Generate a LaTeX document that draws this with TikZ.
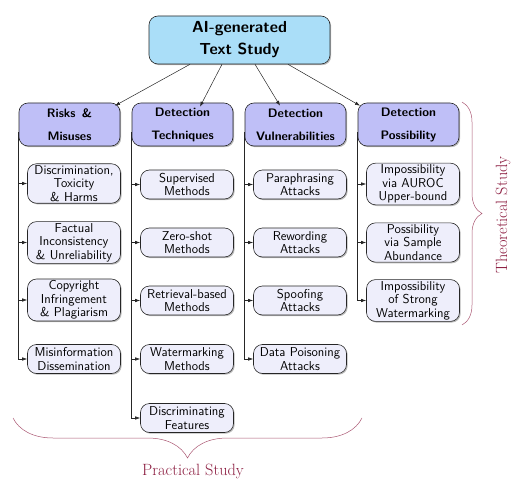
\documentclass[tikz,border=0pt]{standalone}
\usetikzlibrary{shadows,decorations.pathreplacing,arrows.meta}
\definecolor{rootfill}{RGB}{170,222,248}
\definecolor{catfill}{RGB}{191,191,247}
\definecolor{leaffill}{RGB}{238,238,251}
\definecolor{bracecol}{RGB}{140,30,65}
\tikzset{
  boxbase/.style={draw=black!85, line width=0.6pt, rounded corners=9pt, align=center,
    drop shadow={shadow xshift=1.2pt, shadow yshift=-1.2pt, opacity=0.45, fill=black!60}},
  rootbox/.style={boxbase, fill=rootfill, minimum width=181pt, minimum height=48pt,
    text width=170pt, font=\sffamily\bfseries\fontsize{16}{22}\selectfont},
  catbox/.style={boxbase, fill=catfill, minimum width=101pt, minimum height=43pt,
    text width=96pt, inner sep=2pt, font=\sffamily\bfseries\fontsize{12.3}{23}\selectfont},
  leafbox/.style={boxbase, fill=leaffill, minimum width=92pt, minimum height=29pt,
    text width=90pt, inner sep=1.5pt, font=\sffamily\fontsize{12.9}{13.6}\selectfont},
  arr/.style={-{Latex[length=5pt,width=3.5pt]}, line width=0.5pt, black!85},
  tree/.style={-{Latex[length=5pt,width=3.5pt]}, line width=0.6pt, black!85},
  bracestyle/.style={decorate, draw=bracecol!75, line width=0.5pt},
  studylabel/.style={text=bracecol, font=\fontsize{16.3}{18}\selectfont}
}
\begin{document}
\begin{tikzpicture}[x=1pt,y=-1pt]
\useasboundingbox (0,0) rectangle (519,481);
% root
\node[rootbox] (root) at (239.5,40) {AI-generated\\Text Study};
% categories
\node[catbox] (c1) at (69.5,124.5) {Risks \,\&\\Misuses};
\node[catbox] (c2) at (182.5,124.5) {Detection\\Techniques};
\node[catbox] (c3) at (295.5,124.5) {Detection\\Vulnerabilities};
\node[catbox] (c4) at (408.5,124.5) {Detection\\Possibility};
% root arrows
\draw[arr] ([xshift=-49.5pt]root.south) -- ([xshift=45.5pt,yshift=-3pt]c1.north);
\draw[arr] ([xshift=-17.5pt]root.south) -- ([xshift=17.5pt,yshift=-4pt]c2.north);
\draw[arr] ([xshift=15.5pt]root.south) -- ([xshift=-15.5pt,yshift=-3pt]c3.north);
\draw[arr] ([xshift=48.5pt]root.south) -- ([xshift=-48.5pt,yshift=-3pt]c4.north);
% column 1
\node[leafbox] (a1) at (74,183.5) {Discrimination,\\Toxicity\\\& Harms};
\node[leafbox] (a2) at (74,242.5) {Factual\\Inconsistency\\\& Unreliability};
\node[leafbox] (a3) at (74,300) {Copyright\\Infringement\\\& Plagiarism};
\node[leafbox] (a4) at (74,359) {Misinformation\\Dissemination};
% column 2
\node[leafbox] (b1) at (187,184.5) {Supervised\\Methods};
\node[leafbox] (b2) at (187,242.5) {Zero-shot\\Methods};
\node[leafbox] (b3) at (187,300.5) {Retrieval-based\\Methods};
\node[leafbox] (b4) at (187,359) {Watermarking\\Methods};
\node[leafbox] (b5) at (187,418) {Discriminating\\Features};
% column 3
\node[leafbox] (d1) at (300,184.5) {Paraphrasing\\Attacks};
\node[leafbox] (d2) at (300,242.5) {Rewording\\Attacks};
\node[leafbox] (d3) at (300,300.5) {Spoofing\\Attacks};
\node[leafbox] (d4) at (300,359) {Data Poisoning\\Attacks};
% column 4
\node[leafbox] (e1) at (413,184) {Impossibility\\via AUROC\\Upper-bound};
\node[leafbox] (e2) at (413,242.5) {Possibility\\via Sample\\Abundance};
\node[leafbox] (e3) at (413,300.5) {Impossibility\\of Strong\\Watermarking};
% tree connectors
\foreach \p/\k in {c1/a1,c1/a2,c1/a3,c1/a4,c2/b1,c2/b2,c2/b3,c2/b4,c2/b5,c3/d1,c3/d2,c3/d3,c3/d4,c4/e1,c4/e2,c4/e3}
  \draw[tree] ([yshift=-8pt]\p.west) |- (\k.west);
% braces
\coordinate (pb1) at (362,418);
\coordinate (pb2) at (13,418);
\draw[bracestyle, decoration={brace, amplitude=40pt}] (pb1) -- (pb2);
\node[studylabel] (pl) at (193,471) {Practical Study};
\coordinate (tb1) at (462,102);
\coordinate (tb2) at (462,325);
\draw[bracestyle, decoration={brace, amplitude=20pt}] (tb1) -- (tb2);
\node[studylabel, rotate=90] (tl) at (503,215) {Theoretical Study};
\end{tikzpicture}
\end{document}
